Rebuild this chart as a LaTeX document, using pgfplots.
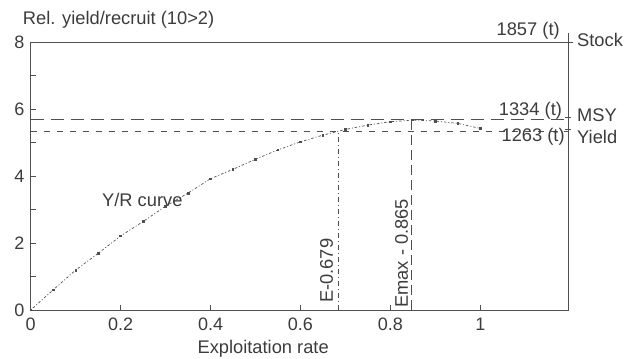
\documentclass[border=0pt]{standalone}
\usepackage{fontspec}
\setmainfont{Liberation Sans}
\usepackage{pgfplots}
\pgfplotsset{compat=1.18}
\usetikzlibrary{calc}
\definecolor{ink}{HTML}{3C3C3C}
\definecolor{ln}{HTML}{505050}
\begin{document}
\fontsize{18.3bp}{22bp}\selectfont
\begin{tikzpicture}
\begin{axis}[name=ax, scale only axis, width=537.3bp, height=268bp,
  xmin=0, xmax=1.195, ymin=0, ymax=8,
  xtick={0,0.2,0.4,0.6,0.8,1},
  ytick={0,2,4,6,8}, minor ytick={1,3,5,7},
  tick align=inside, xtick pos=bottom, ytick pos=left,
  major tick length=5bp, minor tick length=5bp,
  axis line style={ln, line width=0.9pt},
  every tick/.style={ln, line width=0.8pt},
  ticklabel style={text=ink, font=\fontsize{18bp}{21bp}\selectfont},
  xticklabel style={yshift=-2bp},
  /pgf/number format/assume math mode=true,
  clip=false]
% Y/R curve
\addplot[ln, line width=0.7pt, dash pattern=on 1pt off 2pt on 2.5pt off 2pt,
  mark=square*, mark size=0.8pt, mark options={solid}] coordinates {
 (0,0) (0.05,0.60) (0.10,1.19) (0.15,1.69) (0.20,2.21) (0.25,2.64)
 (0.30,3.10) (0.35,3.49) (0.40,3.92) (0.45,4.20) (0.50,4.50) (0.55,4.78)
 (0.60,5.02) (0.65,5.22) (0.70,5.39) (0.75,5.52) (0.80,5.62) (0.85,5.67)
 (0.90,5.64) (0.95,5.57) (1.00,5.42)};
% MSY and yield lines
\addplot[ln, line width=0.9pt, dash pattern=on 13bp off 7bp] coordinates {(0,5.69) (1.195,5.69)};
\addplot[ln, line width=0.9pt, dash pattern=on 6bp off 7bp] coordinates {(0,5.34) (1.195,5.34)};
% vertical lines
\addplot[ln, line width=0.9pt, dash pattern=on 5bp off 3bp on 1bp off 3bp] coordinates {(0.684,0) (0.684,5.34)};
\addplot[ln, line width=0.9pt, dash pattern=on 10bp off 5bp] coordinates {(0.847,0) (0.847,5.69)};
% right axis extension and ticks
\addplot[ln, line width=0.9pt] coordinates {(1.195,8) (1.195,8.26)};
\addplot[ln, line width=0.8pt] coordinates {(1.184,8) (1.206,8)};
\addplot[ln, line width=0.8pt] coordinates {(1.188,5.75) (1.202,5.75)};
\addplot[ln, line width=0.8pt] coordinates {(1.188,5.40) (1.202,5.40)};
% texts
\node[inner sep=0, anchor=base west, text=ink] at (axis cs:-0.0178,8.51) {Rel. yield/recruit (10>2)};
\node[inner sep=0, anchor=base, text=ink] at (axis cs:0.517,-1.29) {Exploitation rate};
\node[inner sep=0, anchor=base west, text=ink] at (axis cs:0.1585,3.10) {Y/R curve};
\node[inner sep=0, anchor=base west, rotate=90, text=ink] at (axis cs:0.672,0.209) {E-0.679};
\node[inner sep=0, anchor=base west, rotate=90, text=ink] at (axis cs:0.839,0.06) {Emax - 0.865};
\node[inner sep=0, anchor=west, text=ink] at (axis cs:1.215,8.06) {Stock};
\node[inner sep=0, anchor=west, text=ink] at (axis cs:1.215,5.82) {MSY};
\node[inner sep=0, anchor=west, text=ink] at (axis cs:1.215,5.16) {Yield};
\node[inner sep=0, anchor=base east, text=ink] at (axis cs:1.177,8.18) {1857 (t)};
\node[inner sep=0, anchor=base east, text=ink] at (axis cs:1.182,5.82) {1334 (t)};
\node[inner sep=0, anchor=base east, text=ink] at (axis cs:1.188,5.04) {1263 (t)};
\end{axis}
\pgfresetboundingbox
\path[use as bounding box] ($(ax.south west)+(-30.7bp,-49bp)$) rectangle ($(ax.north east)+(66bp,42bp)$);
\end{tikzpicture}
\end{document}
